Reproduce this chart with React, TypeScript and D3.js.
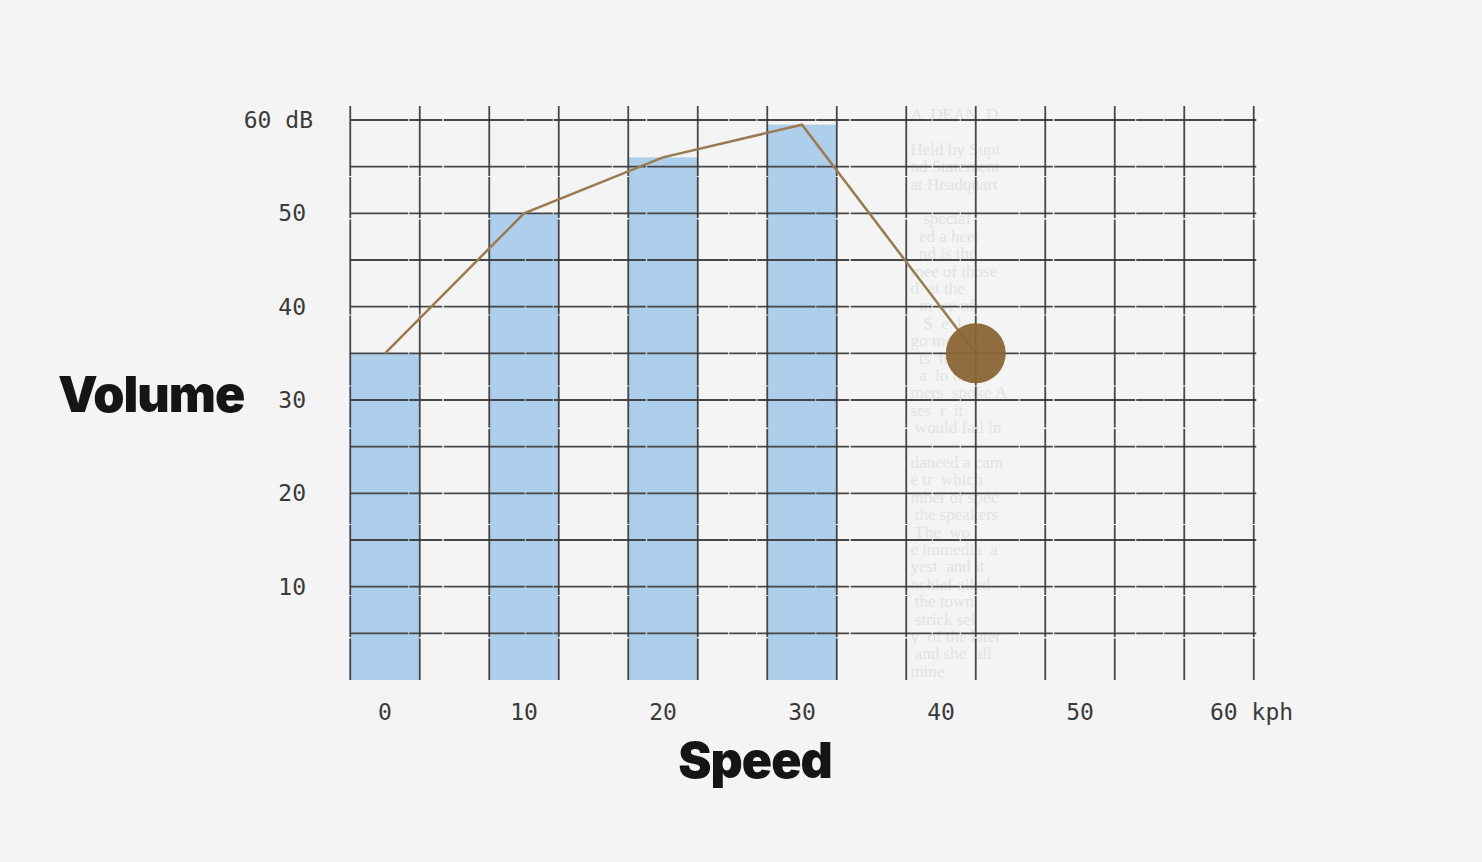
import { useEffect } from "react"
import { line as d3Line, scaleLinear, range as d3Range } from "d3"

const barSpeeds = [0, 10, 20, 30]
const barVolumes = [35, 50, 56, 59.5]
const lineSpeeds = [0, 10, 20, 30, 42.5]
const lineVolumes = [35, 50, 56, 59.5, 35]
const yTickValues = [10, 20, 30, 40, 50, 60]
const xTickValues = [0, 10, 20, 30, 40, 50, 60]

// faint newspaper clipping behind the grid
const clippingLines = [
  "A  DEAN  D.",
  "",
  "Held by Supt",
  "nd Statement-",
  "at Headquart",
  "",
  "   special",
  "  ed a heet",
  "  nd is the",
  "mee of those",
  "d  at the",
  "  m we of",
  "   S  e  l",
  "go more  to",
  "  ts  heirs",
  "  a  lo the",
  "mers  spoke A",
  "ses  r  it",
  " would fall in",
  "",
  "daneed a cam",
  "e tr  which",
  "mber of spec",
  " the speakers",
  " The  wo",
  "e immedia  a",
  "yest  and it",
  "nchief ailed",
  " the town",
  " strick sel",
  "y  of the later",
  " and she  all",
  "mine",
]

const W = 1482
const H = 862

export default function App() {
  useEffect(() => {
    document.body.style.margin = "0"
    document.body.style.background = "#f4f4f4"
  }, [])

  const x = scaleLinear().domain([0, 60]).range([385, 1219])
  const y = scaleLinear().domain([0, 60]).range([680, 120])
  const colW = x(5) - x(0)

  const vLines = d3Range(0, 14).map((i) => -2.5 + i * 5)
  const hLines = d3Range(1, 13).map((i) => i * 5)

  const pts = lineSpeeds.map((s, i) => [s, lineVolumes[i]] as [number, number])
  const path = d3Line<[number, number]>()
    .x((d) => x(d[0]))
    .y((d) => y(d[1]))(pts) ?? ""

  const last = pts[pts.length - 1]
  const mono = "'DejaVu Sans Mono', monospace"
  const heavy = "Inter, 'Noto Sans', sans-serif"

  return (
    <svg width={W} height={H} viewBox={`0 0 ${W} ${H}`} style={{ display: "block", position: "fixed", left: 0, top: 0, background: "#f4f4f4" }}>
      <rect x={0} y={0} width={W} height={H} fill="#f4f4f4" />

      <g fontFamily="'Liberation Serif', serif" fontSize={17} fill="#e3e3e3">
        {clippingLines.map((t, i) => (
          <text key={i} x={x(37.8)} y={y(60) + i * 17.4} style={{ whiteSpace: "pre" }}>
            {t}
          </text>
        ))}
      </g>

      {barSpeeds.map((s, i) => (
        <rect key={s} x={x(s) - colW / 2} y={y(barVolumes[i])} width={colW} height={y(0) - y(barVolumes[i])} fill="#aecfeb" />
      ))}

      <g stroke="#383838" strokeWidth={1.8} fill="none">
        {hLines.map((v) => (
          <line key={`h${v}`} x1={x(-2.5)} x2={x(62.75)} y1={y(v)} y2={y(v)} strokeDasharray="58 1 33 1.5 81 1 27 1" strokeOpacity={0.92} />
        ))}
        {vLines.map((s) => (
          <line key={`v${s}`} x1={x(s)} x2={x(s)} y1={y(61.5)} y2={y(0)} strokeDasharray="70 1 41 1.5 95 1" strokeOpacity={0.92} />
        ))}
      </g>

      <path d={path} fill="none" stroke="#9a7a52" strokeWidth={2.5} />
      <circle cx={x(last[0])} cy={y(last[1])} r={30} fill="#8a6535" fillOpacity={0.95} />

      <g fontFamily={mono} fontSize={23} fill="#3a3a3a">
        {yTickValues.map((v) => (
          <text key={v} x={v === 60 ? 313 : 306} y={y(v)} dy="0.35em" textAnchor="end">
            {v === 60 ? "60 dB" : String(v)}
          </text>
        ))}
        {xTickValues.map((v) => (
          <text key={v} x={v === 60 ? x(v) - 9 : x(v)} y={720} textAnchor={v === 60 ? "start" : "middle"}>
            {v === 60 ? "60 kph" : String(v)}
          </text>
        ))}
      </g>

      <text x={58} y={412} fontFamily={heavy} fontWeight={900} fontSize={50} letterSpacing={-1} fill="#151515">
        Volume
      </text>
      <text x={755} y={778} textAnchor="middle" fontFamily={heavy} fontWeight={900} fontSize={50} letterSpacing={-1} fill="#151515">
        Speed
      </text>
    </svg>
  )
}
